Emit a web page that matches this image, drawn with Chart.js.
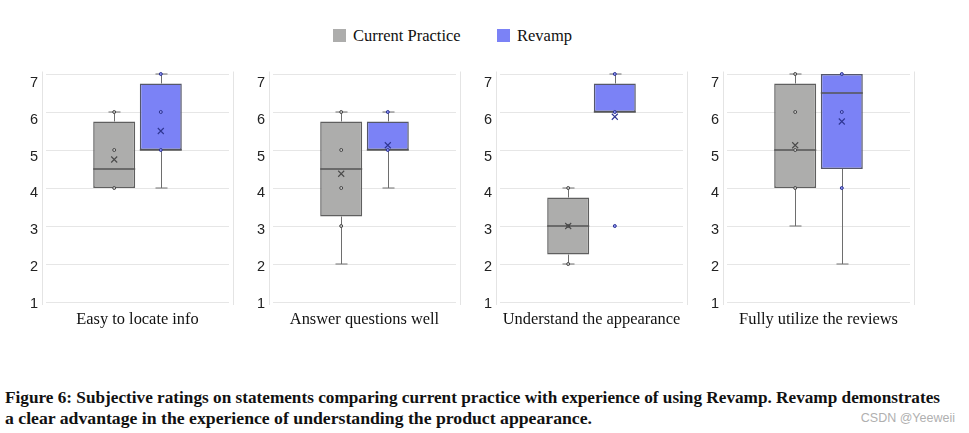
<!DOCTYPE html>
<html>
<head>
<meta charset="utf-8">
<title>Subjective ratings</title>
<script src="https://cdn.jsdelivr.net/npm/chart.js@4.4.0/dist/chart.umd.min.js"></script>
<style>
  body { margin: 0; background: #fff; width: 969px; height: 433px; position: relative; overflow: hidden; }
  .panel { position: absolute; top: 60px; width: 227px; height: 280px; }
  .sw { position: absolute; top: 29px; width: 13px; height: 13px; }
  .lt { position: absolute; top: 26px; font: 16.5px "Liberation Serif", "Times New Roman", serif; color: #111; line-height: 20px; white-space: nowrap; }
  .cap { position: absolute; left: 5px; font: bold 16px "Liberation Serif", "Times New Roman", serif; color: #111; line-height: 21px; white-space: nowrap; transform-origin: 0 0; }
  #wm { position: absolute; right: 14px; top: 411px; font: 12.5px "Liberation Sans", Arial, sans-serif; color: #b0b0b0; white-space: nowrap; }
</style>
</head>
<body>
<div id="legend"></div>
<div class="panel" style="left:12px"><canvas id="c0" width="227" height="280"></canvas></div>
<div class="panel" style="left:239px"><canvas id="c1" width="227" height="280"></canvas></div>
<div class="panel" style="left:466px"><canvas id="c2" width="227" height="280"></canvas></div>
<div class="panel" style="left:693px"><canvas id="c3" width="227" height="280"></canvas></div>
<div class="cap" id="cap1" style="top:387px">Figure 6: Subjective ratings on statements comparing current practice with experience of using Revamp. Revamp demonstrates</div>
<div class="cap" id="cap2" style="top:408px">a clear advantage in the experience of understanding the product appearance.</div>
<div id="wm">CSDN @Yeeweii</div>

<script>
const categories = ["Easy to locate info", "Answer questions well", "Understand the appearance", "Fully utilize the reviews"];
const seriesNames = ["Current Practice", "Revamp"];
const yTicks = [1, 2, 3, 4, 5, 6, 7];

// Current Practice box stats per statement
const currentMin = [4, 2, 2, 3];
const currentQ1 = [4, 3.25, 2.25, 4];
const currentMedian = [4.5, 4.5, 3, 5];
const currentQ3 = [5.75, 5.75, 3.75, 6.75];
const currentMax = [6, 6, 4, 7];
const currentMean = [4.75, 4.375, 3, 5.125];
const currentPoints = [[6, 5, 4], [6, 5, 4, 3], [4, 3, 2], [7, 6, 5, 4]];

// Revamp box stats per statement
const revampMin = [4, 4, 6, 2];
const revampQ1 = [5, 5, 6, 4.5];
const revampMedian = [5, 5, 6, 6.5];
const revampQ3 = [6.75, 5.75, 6.75, 7];
const revampMax = [7, 6, 7, 7];
const revampMean = [5.5, 5.125, 5.875, 5.75];
const revampPoints = [[7, 6, 5], [6, 5], [7, 6, 3], [7, 6, 4]];

const fills = ["#adadac", "#7b82f6"];
const markColors = ["#4a4a4a", "#2e3592"];

function buildLegend() {
  const legend = document.getElementById("legend");
  const swLeft = [333, 497];
  seriesNames.forEach((name, i) => {
    const sw = document.createElement("span");
    sw.className = "sw";
    sw.style.left = swLeft[i] + "px";
    sw.style.background = fills[i];
    legend.appendChild(sw);
    const t = document.createElement("span");
    t.className = "lt";
    t.style.left = (swLeft[i] + 20) + "px";
    t.textContent = name;
    legend.appendChild(t);
  });
}

// the caption font in the paper is condensed, so squeeze each line to its width
function fitCaption() {
  [["cap1", 935], ["cap2", 587]].forEach(([id, w]) => {
    const el = document.getElementById(id);
    const s = w / el.getBoundingClientRect().width;
    el.style.transform = `scaleX(${s})`;
  });
}

// grid, panel borders and whiskers behind the boxes; median, mean and points on top
const boxPlugin = {
  id: "boxPlugin",
  beforeDatasetsDraw(chart) {
    const { ctx, chartArea } = chart;
    const y = chart.scales.y;
    ctx.save();
    ctx.lineWidth = 1;
    ctx.strokeStyle = "#e6e6e6";
    yTicks.forEach(v => {
      const py = Math.round(y.getPixelForValue(v)) + 0.5;
      ctx.beginPath();
      ctx.moveTo(chartArea.left + 4, py);
      ctx.lineTo(chartArea.right - 4, py);
      ctx.stroke();
    });
    ctx.strokeStyle = "#e4e4e4";
    [chartArea.left, chartArea.right].forEach(x => {
      ctx.beginPath();
      ctx.moveTo(Math.round(x) + 0.5, chartArea.top - 2.5);
      ctx.lineTo(Math.round(x) + 0.5, chartArea.bottom + 3);
      ctx.stroke();
    });

    ctx.strokeStyle = "#6e6e6e";
    chart.data.datasets.forEach((ds, d) => {
      const bar = chart.getDatasetMeta(d).data[0];
      const x = Math.round(bar.x) + 0.5;
      const st = ds.stats;
      const pairs = [[st.max, ds.data[0][1]], [st.min, ds.data[0][0]]];
      pairs.forEach(([end, edge]) => {
        if (end === edge) return;
        const pe = y.getPixelForValue(end);
        ctx.beginPath();
        ctx.moveTo(x, pe);
        ctx.lineTo(x, y.getPixelForValue(edge));
        ctx.moveTo(x - 6, pe);
        ctx.lineTo(x + 6, pe);
        ctx.stroke();
      });
    });
    ctx.restore();
  },
  afterDatasetsDraw(chart) {
    const { ctx } = chart;
    const y = chart.scales.y;
    ctx.save();
    chart.data.datasets.forEach((ds, d) => {
      const bar = chart.getDatasetMeta(d).data[0];
      const x = bar.x;
      const half = bar.width / 2;
      const st = ds.stats;
      // median
      const pm = y.getPixelForValue(st.median);
      ctx.strokeStyle = "#555";
      ctx.lineWidth = 1.5;
      ctx.beginPath();
      ctx.moveTo(x - half, pm);
      ctx.lineTo(x + half, pm);
      ctx.stroke();
      // points
      ctx.lineWidth = 1;
      st.points.forEach(v => {
        ctx.beginPath();
        ctx.arc(x, y.getPixelForValue(v), 1.5, 0, Math.PI * 2);
        ctx.fillStyle = d === 0 ? "#c8c8c8" : "#8a90f0";
        ctx.fill();
        ctx.strokeStyle = markColors[d];
        ctx.stroke();
      });
      // mean
      const pmean = y.getPixelForValue(st.mean);
      ctx.strokeStyle = markColors[d];
      ctx.lineWidth = 1.1;
      ctx.beginPath();
      ctx.moveTo(x - 3, pmean - 3);
      ctx.lineTo(x + 3, pmean + 3);
      ctx.moveTo(x + 3, pmean - 3);
      ctx.lineTo(x - 3, pmean + 3);
      ctx.stroke();
    });
    ctx.restore();
  }
};

function renderPanel(i) {
  const ctx = document.getElementById("c" + i);
  new Chart(ctx, {
    type: "bar",
    data: {
      labels: [categories[i]],
      datasets: [
        {
          label: seriesNames[0],
          data: [[currentQ1[i], currentQ3[i]]],
          backgroundColor: fills[0],
          borderColor: "#5f5f5f",
          borderWidth: 1.5,
          borderSkipped: false,
          stats: { min: currentMin[i], median: currentMedian[i], max: currentMax[i], mean: currentMean[i], points: currentPoints[i] }
        },
        {
          label: seriesNames[1],
          data: [[revampQ1[i], revampQ3[i]]],
          backgroundColor: fills[1],
          borderColor: "#55576a",
          borderWidth: 1.5,
          borderSkipped: false,
          stats: { min: revampMin[i], median: revampMedian[i], max: revampMax[i], mean: revampMean[i], points: revampPoints[i] }
        }
      ]
    },
    options: {
      responsive: false,
      animation: false,
      devicePixelRatio: 1,
      categoryPercentage: 0.488,
      barPercentage: 0.901,
      layout: { padding: { top: 14, right: 6, left: 0, bottom: 0 } },
      plugins: {
        legend: { display: false },
        tooltip: { enabled: false }
      },
      scales: {
        x: {
          grid: { display: false, drawTicks: false },
          border: { display: false },
          ticks: {
            color: "#111",
            padding: 8,
            font: { family: "'Liberation Serif', 'Times New Roman', serif", size: 16.4 }
          },
          afterFit(scale) { scale.height = 38; }
        },
        y: { display: false, min: 1, max: 7 },
        yl: {
          position: "left",
          min: 1.054,
          max: 7.244,
          grid: { display: false, drawTicks: false },
          border: { display: false },
          afterBuildTicks(scale) { scale.ticks = yTicks.map(v => ({ value: v })); },
          ticks: {
            color: "#222",
            padding: 4,
            font: { family: "'Liberation Sans', Arial, sans-serif", size: 14.5 }
          },
          afterFit(scale) { scale.width = 30; }
        }
      }
    },
    plugins: [boxPlugin]
  });
}

document.addEventListener("DOMContentLoaded", () => {
  buildLegend();
  categories.forEach((c, i) => renderPanel(i));
  fitCaption();
});
</script>
</body>
</html>
